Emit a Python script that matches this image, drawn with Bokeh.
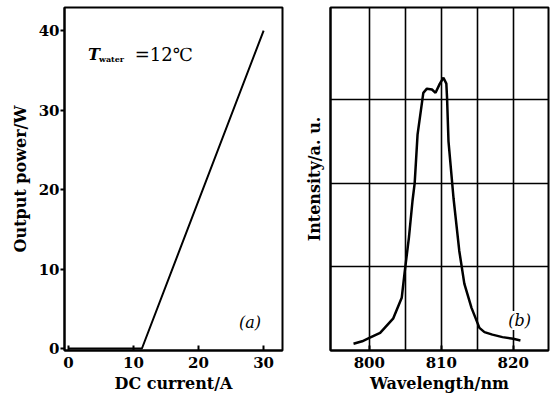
from bokeh.plotting import figure
from bokeh.layouts import row
from bokeh.models import Label, FixedTicker, Range1d
from bokeh.embed import file_html
from bokeh.resources import INLINE

# Panel (a): output power vs DC current
current = [0, 11.3, 30]
power = [0, 0, 40]
x_ticks_a = [0, 10, 20, 30]
y_ticks_a = [0, 10, 20, 30, 40]

# Panel (b): spectrum
wavelength = [797.8, 799.0, 800.0, 801.5, 803.3, 804.5, 804.9, 805.5, 806.0, 806.3,
              806.7, 807.5, 808.0, 808.7, 809.2, 809.8, 810.3, 810.7, 810.8, 811.0,
              811.7, 812.5, 813.2, 814.2, 815.3, 816.0, 817.1, 818.5, 820.0, 821.0]
intensity = [0.08, 0.11, 0.15, 0.21, 0.38, 0.63, 0.93, 1.35, 1.79, 2.0,
             2.58, 3.08, 3.13, 3.12, 3.08, 3.19, 3.26, 3.19, 3.02, 2.5,
             1.82, 1.19, 0.8, 0.51, 0.27, 0.22, 0.19, 0.16, 0.14, 0.12]
x_ticks_b = [800, 810, 820]
grid_x_b = [800, 805, 810, 815, 820]
grid_y_b = [1, 2, 3]

FONT = "DejaVu Serif"


def style_axes(p):
    for ax in p.axis:
        ax.axis_line_color = "black"
        ax.axis_line_width = 2
        ax.major_tick_line_color = "black"
        ax.major_tick_line_width = 2
        ax.minor_tick_line_color = None
        ax.major_label_text_font = FONT
        ax.major_label_text_font_style = "bold"
        ax.major_label_text_font_size = "15px"
        ax.major_label_text_color = "black"
        ax.axis_label_text_font = FONT
        ax.axis_label_text_font_style = "bold"
        ax.axis_label_text_font_size = "16px"
        ax.axis_label_text_color = "black"


p1 = figure(frame_width=218, frame_height=343,
            x_range=Range1d(-0.6, 32.9), y_range=Range1d(-0.25, 42.9),
            output_backend="svg", toolbar_location=None,
            min_border_left=64, min_border_right=18, min_border_top=7, min_border_bottom=50)
p1.outline_line_color = "black"
p1.outline_line_width = 2
p1.grid.visible = False
p1.line(current, power, line_color="black", line_width=2)
style_axes(p1)
p1.xaxis.ticker = FixedTicker(ticks=x_ticks_a)
p1.yaxis.ticker = FixedTicker(ticks=y_ticks_a)
p1.xaxis.major_tick_in = 5
p1.xaxis.major_tick_out = 0
p1.xaxis.major_label_standoff = 6
p1.xaxis.axis_label = "DC current/A"
p1.xaxis.axis_label_standoff = 3
p1.yaxis.major_tick_in = 0
p1.yaxis.major_tick_out = 4
p1.yaxis.major_label_standoff = 1
p1.yaxis.axis_label = "Output power/W"
p1.yaxis.axis_label_standoff = 6

p1.add_layout(Label(x=3.0, y=37.0, text="T", text_font=FONT, text_font_style="bold italic",
                    text_font_size="16px", text_baseline="middle", text_color="black"))
p1.add_layout(Label(x=4.7, y=36.4, text="water", text_font=FONT, text_font_style="bold",
                    text_font_size="8px", text_baseline="middle", text_color="black"))
p1.add_layout(Label(x=10.2, y=37.0, text="=12℃", text_font=FONT,
                    text_font_size="18px", text_baseline="middle", text_color="black"))
p1.add_layout(Label(x=26.2, y=3.3, text="(a)", text_font=FONT, text_font_style="italic",
                    text_font_size="16px", text_baseline="middle", text_color="black"))

p2 = figure(frame_width=218, frame_height=343,
            x_range=Range1d(794.6, 824.9), y_range=Range1d(0, 4.1),
            output_backend="svg", toolbar_location=None,
            min_border_left=30, min_border_right=2, min_border_top=7, min_border_bottom=50)
p2.outline_line_color = "black"
p2.outline_line_width = 2
p2.xgrid.ticker = FixedTicker(ticks=grid_x_b)
p2.ygrid.ticker = FixedTicker(ticks=grid_y_b)
p2.grid.grid_line_color = "black"
p2.grid.grid_line_width = 1.6
p2.grid.grid_line_alpha = 1.0
p2.line(wavelength, intensity, line_color="black", line_width=2.5)
style_axes(p2)
p2.xaxis.ticker = FixedTicker(ticks=x_ticks_b)
p2.xaxis.major_tick_in = 5
p2.xaxis.major_tick_out = 0
p2.xaxis.major_label_standoff = 6
p2.xaxis.axis_label = "Wavelength/nm"
p2.xaxis.axis_label_standoff = 3
p2.yaxis.ticker = FixedTicker(ticks=[])
p2.yaxis.major_tick_in = 0
p2.yaxis.major_tick_out = 0
p2.yaxis.major_label_standoff = 0
p2.yaxis.axis_label = "Intensity/a. u."
p2.yaxis.axis_label_standoff = 7
p2.add_layout(Label(x=819.3, y=0.36, text="(b)", text_font=FONT, text_font_style="italic",
                    text_font_size="16px", text_baseline="middle", text_color="black",
                    background_fill_color="white"))

layout = row(p1, p2, spacing=0)
open("out.html", "w").write(file_html(layout, INLINE))
